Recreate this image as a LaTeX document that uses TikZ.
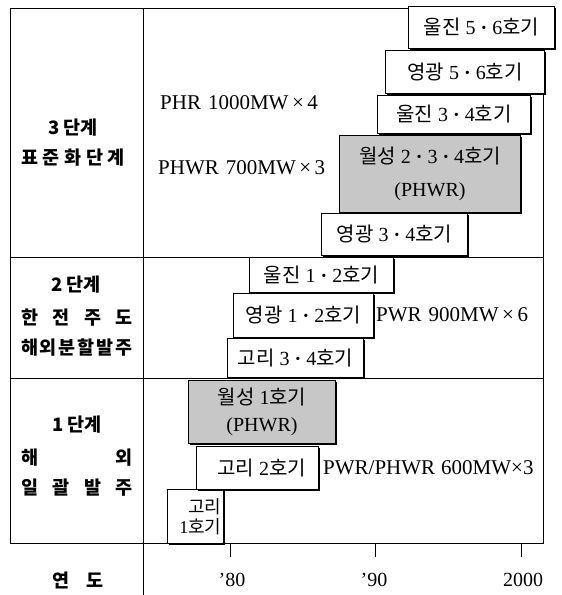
\documentclass[tikz,border=0pt]{standalone}
\usepackage{fontspec}
\setmainfont{Liberation Serif}
\newfontfamily\kr{Noto Sans CJK KR}
\usetikzlibrary{shadows}
\newcommand\kt[1]{{\kr #1}}
\newcommand\mdot{{\bfseries ·}}
\begin{document}
\begin{tikzpicture}[x=1pt,y=-1pt,
  frame/.style={line width=0.8pt},
  bx/.style={draw, line width=1pt, fill=white, inner sep=0pt, anchor=north west, align=center,
    font=\fontsize{20}{30}\selectfont,
    drop shadow={shadow xshift=1.8pt, shadow yshift=-1.8pt, opacity=1, fill=black}},
  shd/.style={bx, fill=black!22},
  lab/.style={font=\kr\bfseries\fontsize{18.5}{20}\selectfont, inner sep=0pt},
  spec/.style={anchor=west, inner sep=0pt, font=\fontsize{21}{24}\selectfont},
  yr/.style={inner sep=0pt, font=\fontsize{20}{22}\selectfont}]
\useasboundingbox (0,0) rectangle (562,595);
% frame
\draw[frame] (10,8) rectangle (543,543);
\draw[frame] (143,8) -- (143,595);
\draw[frame] (10,257) -- (543,257);
\draw[frame] (10,378) -- (543,378);
\draw[frame] (230,543) -- (230,557);
\draw[frame] (375,543) -- (375,557);
\draw[frame] (521,543) -- (521,557);
% stage labels
\node[lab] (s3a) at (73,128) {3 단계};
\node[lab] (s3b) at (73,158) {\makebox[104pt][s]{표\hfill 준\hfill 화\hfill 단\hfill 계}};
\node[lab] (s2a) at (76,285) {2 단계};
\node[lab] (s2b) at (77,318) {\makebox[112pt][s]{한\hfill 전\hfill 주\hfill 도}};
\node[lab] (s2c) at (77,348) {\makebox[112pt][s]{해\hfill 외\hfill 분\hfill 할\hfill 발\hfill 주}};
\node[lab] (s1a) at (77,425) {1 단계};
\node[lab] (s1b) at (77,458) {\makebox[112pt][s]{해\hfill 외}};
\node[lab] (s1c) at (77,488) {\makebox[112pt][s]{일\hfill 괄\hfill 발\hfill 주}};
\node[lab] (yrlab) at (78,580) {\makebox[52pt][s]{연\hfill 도}};
% year labels
\node[yr] (t80) at (232,580) {’80};
\node[yr] (t90) at (374,580) {’90};
\node[yr] (t00) at (523,580) {2000};
% spec texts
\node[spec] (phr) at (160,103) {PHR\hspace{7pt}1000MW\,×\,4};
\node[spec] (phwr) at (158,168) {PHWR\hspace{7pt}700MW\,×\,3};
\node[spec] (pwr9) at (376,315) {PWR\hspace{7pt}900MW\,×\,6};
\node[spec] (pwr6) at (323,468) {PWR/PHWR\hspace{6pt}600MW×3};
% boxes, bottom to top
\node[bx, minimum width=56pt, minimum height=54pt, text width=52pt, inner xsep=2pt, align=right,
  font=\fontsize{18}{20}\selectfont] (g1) at (167,489) {\kt{고리}\\1\kt{호기}};
\node[bx, minimum width=122pt, minimum height=43pt] (g2) at (196,446) {\hspace{8pt}\kt{고리} 2\kt{호기}};
\node[shd, minimum width=147pt, minimum height=63pt, font=\fontsize{20}{27}\selectfont] (w1) at (188,380) {\kt{월성} 1\kt{호기}\\(PHWR)};
\node[bx, minimum width=136pt, minimum height=39pt] (g34) at (227,338) {\kt{고리} 3 \mdot{} 4\kt{호기}};
\node[bx, minimum width=140pt, minimum height=44pt] (y12) at (233,293) {\kt{영광} 1 \mdot{} 2\kt{호기}};
\node[bx, minimum width=144pt, minimum height=35pt] (u12) at (249,257) {\kt{울진} 1 \mdot{} 2\kt{호기}};
\node[bx, minimum width=146pt, minimum height=42pt] (y34) at (321,213) {\kt{영광} 3 \mdot{} 4\kt{호기}};
\node[shd, minimum width=181pt, minimum height=77pt, font=\fontsize{20}{33}\selectfont] (w234) at (339,135) {\kt{월성} 2 \mdot{} 3 \mdot{} 4\kt{호기}\\(PHWR)};
\node[bx, minimum width=153pt, minimum height=38pt] (u34) at (377,95) {\kt{울진} 3 \mdot{} 4\kt{호기}};
\node[bx, minimum width=159pt, minimum height=43pt] (y56) at (385,50) {\kt{영광} 5 \mdot{} 6\kt{호기}};
\node[bx, minimum width=146pt, minimum height=42pt] (u56) at (408,6) {\kt{울진} 5 \mdot{} 6\kt{호기}};
\end{tikzpicture}
\end{document}
